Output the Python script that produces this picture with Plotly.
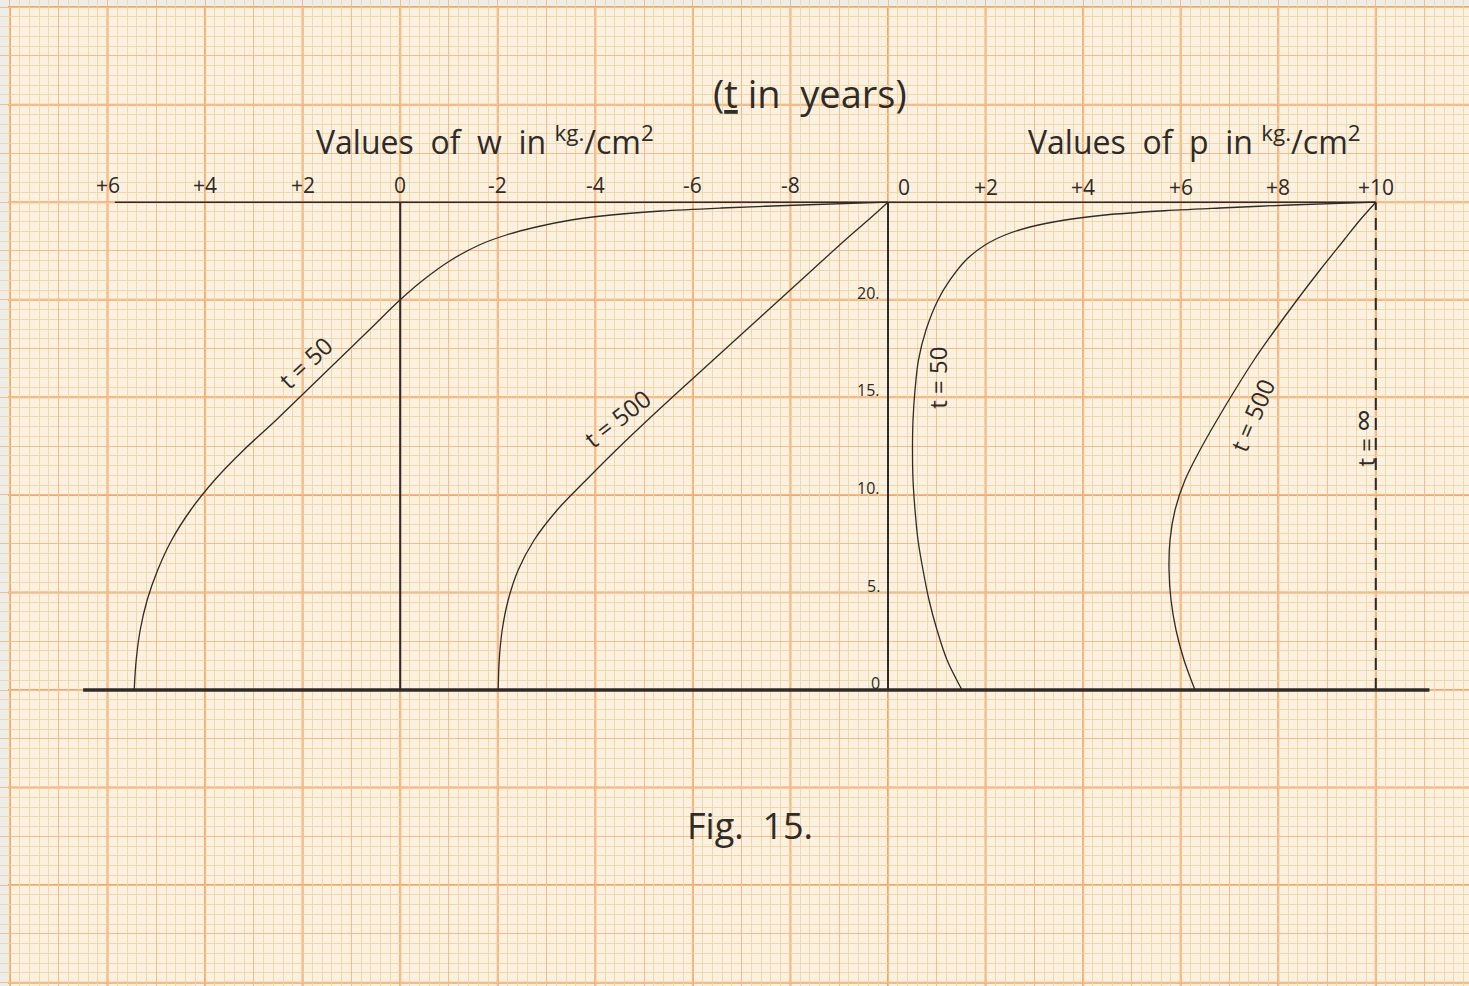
import plotly.graph_objects as go

# ---------------------------------------------------------------
# Data: depth (same scale for both panels) and the stress profiles
# ---------------------------------------------------------------
# w-panel (values of w, kg/cm2), plotted against depth
w50_depth = [0, 1.538, 3.075, 4.613, 6.150, 7.688, 9.225, 10.763, 12.300, 13.838, 15.375, 16.913,
             18.450, 20.0, 21.013, 22.038, 22.806, 23.319, 23.729, 24.088, 24.344, 24.549, 24.703, 24.857, 25.0]
w50_value = [5.453, 5.412, 5.330, 5.187, 4.971, 4.684, 4.295, 3.803, 3.208, 2.542, 1.907, 1.271,
             0.636, 0.0, -0.472, -1.046, -1.620, -2.173, -2.788, -3.506, -4.326, -5.351, -6.581, -8.221, -10.0]

w500_depth = [0, 1.538, 3.075, 4.613, 6.150, 7.688, 9.225, 10.763, 12.300, 13.838, 15.375, 16.913,
              18.450, 19.988, 21.525, 23.063, 24.088, 25.0]
w500_value = [-2.009, -2.030, -2.091, -2.214, -2.419, -2.747, -3.219, -3.813, -4.428, -5.074, -5.740, -6.417,
              -7.093, -7.770, -8.446, -9.123, -9.594, -10.0]

# p-panel (values of p, kg/cm2)
p50_depth = [0, 1.538, 3.075, 4.613, 6.150, 7.688, 9.225, 10.763, 12.300, 13.838, 15.375, 16.913,
             18.450, 19.988, 21.013, 22.038, 22.806, 23.319, 23.729, 24.088, 24.344, 24.549, 24.703, 24.857, 25.0]
p50_value = [1.517, 1.210, 1.005, 0.841, 0.718, 0.615, 0.554, 0.513, 0.502, 0.513, 0.554, 0.625,
             0.779, 1.025, 1.271, 1.599, 1.989, 2.399, 2.911, 3.629, 4.449, 5.576, 6.806, 8.241, 10.0]

p500_depth = [0, 1.538, 3.075, 4.613, 6.150, 7.688, 9.225, 10.763, 12.300, 13.838, 15.375, 16.913,
              18.450, 19.988, 21.525, 23.063, 24.088, 25.0]
p500_value = [6.294, 6.068, 5.904, 5.802, 5.761, 5.781, 5.884, 6.089, 6.396, 6.745, 7.114, 7.503,
              7.934, 8.385, 8.856, 9.348, 9.676, 10.0]

pinf_depth = [0, 25]
pinf_value = [10, 10]

depth_ticks = [0, 5, 10, 15, 20]
w_ticks = [6, 4, 2, 0, -2, -4, -6, -8]
p_ticks = [0, 2, 4, 6, 8, 10]

DEPTH_TOP = 25
W_ZERO = -10          # position of w = 0 on the shared horizontal scale


def w_pos(w):
    """w axis runs right-to-left and ends where the p axis starts."""
    return W_ZERO - w


def w_pos_list(values):
    return [w_pos(v) for v in values]


INK = "#2e2b28"
FONT = "Open Sans"

W, H = 1469, 986
PX_PER_U = 48.78      # 5 mm of graph paper
PX_PER_D = 19.512
X0_PX, Y0_PX = 888, 690

x_range = [-X0_PX / PX_PER_U, (W - X0_PX) / PX_PER_U]
y_range = [-(H - Y0_PX) / PX_PER_D, Y0_PX / PX_PER_D]

fig = go.Figure()


def line(x, y, width, dash=None, shape="linear"):
    fig.add_trace(go.Scatter(
        x=x, y=y, mode="lines", hoverinfo="skip", showlegend=False,
        line=dict(color=INK, width=width, dash=dash, shape=shape, smoothing=0.9),
    ))


# frame of the diagram
line([-16.5, 11.1], [0, 0], 3.4)                                 # ground line
line([w_pos(5.85), pinf_value[0]], [DEPTH_TOP, DEPTH_TOP], 1.5)  # surface line
line([w_pos(0), w_pos(0)], [0, DEPTH_TOP], 2.0)
line([0, 0], [0, DEPTH_TOP], 2.0)
line(pinf_value, pinf_depth, 2.0, dash="12px,8px")

# profiles
line(w_pos_list(w50_value), w50_depth, 1.3, shape="spline")
line(w_pos_list(w500_value), w500_depth, 1.3, shape="spline")
line(p50_value, p50_depth, 1.3, shape="spline")
line(p500_value, p500_depth, 1.3, shape="spline")

annotations = []


def text(x, y, s, size, angle=0, xanchor="center", yanchor="middle", xshift=0):
    annotations.append(dict(
        x=x, y=y, xref="x", yref="y", text=s, showarrow=False,
        font=dict(family=FONT, size=size, color=INK), textangle=angle,
        xanchor=xanchor, yanchor=yanchor, xshift=xshift,
    ))


# scale labels along the top
for w in w_ticks:
    label = "0" if w == 0 else f"{w:+d}"
    text(w_pos(w), 25.9, label, 21)
for p in p_ticks:
    label = "0" if p == 0 else f"{p:+d}"
    text(p, 25.8, label, 21, xshift=16 if p == 0 else 0)

# depth labels on the middle axis
for d in depth_ticks:
    text(-0.12, d + 0.35, f"{d}." if d else "0", 16, xanchor="right")

# titles
text(-1.6, 30.6, "(<u>t</u> in  years)", 38)
text(-8.26, 28.19, "Values  of  w  in <sup>kg.</sup>/cm<sup>2</sup>", 32)
text(6.29, 28.19, "Values  of  p  in <sup>kg.</sup>/cm<sup>2</sup>", 32)
text(-2.83, -6.92, "Fig.  15.", 36)

# curve labels
text(-11.95, 16.81, "t = 50", 24, angle=-43)
text(-5.56, 13.94, "t = 500", 24, angle=-38)
text(1.0, 15.99, "t = 50", 24, angle=-90)
text(7.46, 14.09, "t = 500", 24, angle=-67)
text(9.72, 12.9, "t = <span style='font-size:32px'>∞</span>", 24, angle=-90)

# graph-paper centimetre lines
shapes = []
MAJOR = "#f1a862"
u = -18
while u <= x_range[1]:
    shapes.append(dict(type="line", xref="x", yref="paper", x0=u, x1=u, y0=0, y1=1,
                       line=dict(color=MAJOR, width=2), layer="between"))
    u += 2
d = 35
while d >= y_range[0]:
    shapes.append(dict(type="line", xref="paper", yref="y", x0=0, x1=1, y0=d, y1=d,
                       line=dict(color=MAJOR, width=2), layer="between"))
    d -= 5

# bare strip outside the sheet
EDGE = "#ededea"
shapes.append(dict(type="rect", xref="paper", yref="paper", x0=0, x1=8 / W, y0=0, y1=1,
                   fillcolor=EDGE, line=dict(width=0), layer="between"))
shapes.append(dict(type="rect", xref="paper", yref="paper", x0=0, x1=1, y0=1 - 6 / H, y1=1,
                   fillcolor=EDGE, line=dict(width=0), layer="between"))

grid_common = dict(showticklabels=False, zeroline=False, ticks="", showline=False)

fig.update_layout(
    width=W, height=H,
    margin=dict(l=0, r=0, t=0, b=0),
    paper_bgcolor="#fcf1e0",
    plot_bgcolor="#fcf1e0",
    showlegend=False,
    annotations=annotations,
    shapes=shapes,
    xaxis=dict(range=x_range, tickmode="linear", tick0=0, dtick=1,
               showgrid=True, gridcolor="#f4bd86", gridwidth=1.3,
               minor=dict(tick0=0, dtick=0.2, showgrid=True, gridcolor="#eed9a9", gridwidth=1),
               fixedrange=True, **grid_common),
    yaxis=dict(range=y_range, tickmode="linear", tick0=0, dtick=2.5,
               showgrid=True, gridcolor="#f4bd86", gridwidth=1.3,
               minor=dict(tick0=0, dtick=0.5, showgrid=True, gridcolor="#eed9a9", gridwidth=1),
               fixedrange=True, **grid_common),
)

fig.write_html("out.html")
